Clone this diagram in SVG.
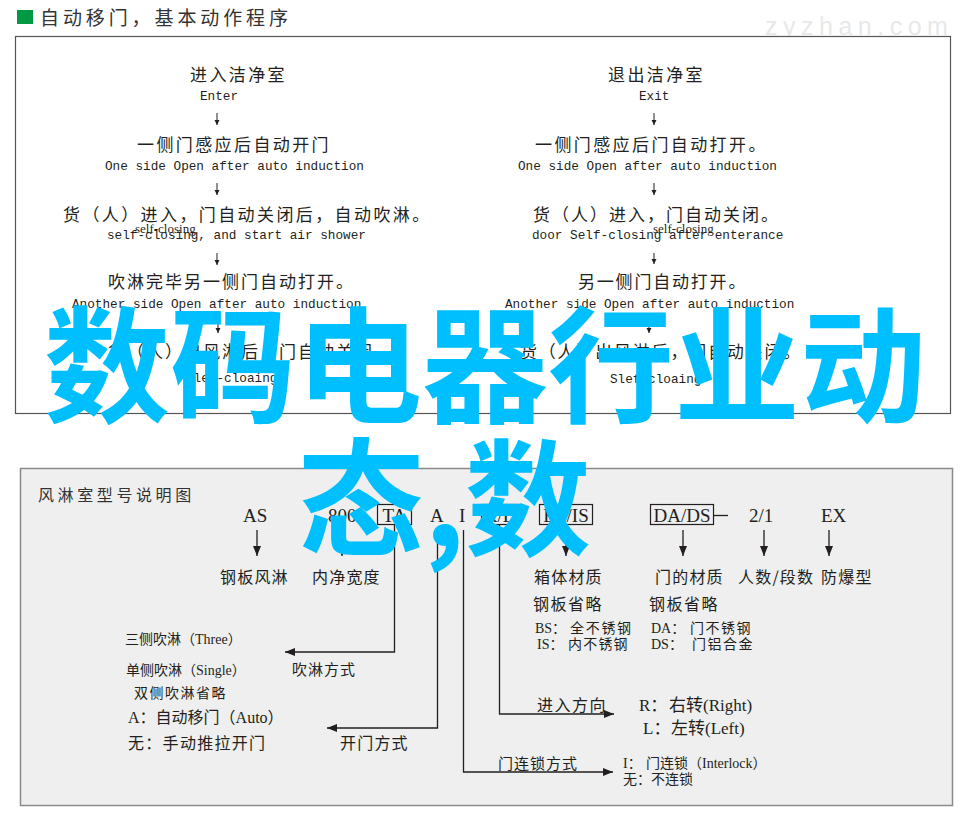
<svg xmlns="http://www.w3.org/2000/svg" width="971" height="822" viewBox="0 0 971 822">
<defs>
<style>
.cn{font-family:"Noto Sans CJK SC","Noto Sans",sans-serif;fill:#231f20}
.t1{font-size:17px;letter-spacing:2.4px}
.mono{font-family:"Liberation Mono","DejaVu Sans Mono",monospace;font-size:12.7px;fill:#231f20}
.ser{font-family:"Liberation Serif","Noto Sans CJK SC",serif;fill:#231f20}
.ov{font-family:"Liberation Serif",serif;font-size:13px;fill:#231f20}
.code{font-family:"Liberation Serif",serif;font-size:19px;fill:#231f20}
.l16{font-size:16px;letter-spacing:1.2px}
.l14{font-size:14px;letter-spacing:1.5px}
.ln{fill:none;stroke:#231f20;stroke-width:1}
.ln2{fill:none;stroke:#231f20;stroke-width:1.3}
.box{fill:none;stroke:#231f20;stroke-width:1.2}
.big{font-family:"Noto Sans CJK SC",sans-serif;font-weight:700;font-size:126px;fill:#00bfff}
</style>
<marker id="sa" markerWidth="6" markerHeight="6" refX="5" refY="3" orient="auto" markerUnits="userSpaceOnUse"><path d="M0,0.5 L5,3 L0,5.5 z" fill="#231f20"/></marker>
<marker id="la" markerWidth="11" markerHeight="9" refX="10" refY="4.5" orient="auto" markerUnits="userSpaceOnUse"><path d="M0,0.5 L10,4.5 L0,8.5 z" fill="#231f20"/></marker>
</defs>

<rect width="971" height="822" fill="#ffffff"/>

<g id="title">
<rect x="17" y="10" width="16" height="14" fill="#009a44"/>
<text x="40" y="25" class="cn" style="font-size:19px;letter-spacing:3.9px;fill:#333">自动移门，基本动作程序</text>
</g>
<g id="watermark">
<text x="765" y="35" style="font-family:'Liberation Sans',sans-serif;font-size:25px;letter-spacing:5.5px;fill:#e8e8e8">zyzhan.com</text>
</g>

<g id="top-frame"><rect x="15.5" y="36.5" width="935" height="377" fill="#ffffff" stroke="#555" stroke-width="1.2"/></g>

<g id="enter-1">
<text x="190" y="81" class="cn t1">进入洁净室</text>
<text x="200" y="100" class="mono">Enter</text>
</g>
<g id="enter-2">
<text x="137" y="151" class="cn t1">一侧门感应后自动开门</text>
<text x="105" y="170" class="mono">One side Open after auto induction</text>
</g>
<g id="enter-3">
<text x="63" y="221" class="cn t1">货（人）进入，门自动关闭后，自动吹淋。</text>
<text x="107" y="239" class="mono">self-closing, and start air shower</text>
<text x="135" y="233" class="ov">self-closing</text>
</g>
<g id="enter-4">
<text x="108" y="288" class="cn t1" style="letter-spacing:2px">吹淋完毕另一侧门自动打开。</text>
<text x="72" y="308" class="mono">Another side Open after auto induction</text>
</g>
<g id="enter-5">
<text x="108" y="358" class="cn t1" style="letter-spacing:2px">货（人）出风淋后，门自动关闭。</text>
<text x="186" y="382" class="mono">Slef-cloaing</text>
</g>

<g id="exit-1">
<text x="608" y="81" class="cn t1">退出洁净室</text>
<text x="639" y="100" class="mono">Exit</text>
</g>
<g id="exit-2">
<text x="535" y="151" class="cn t1">一侧门感应后门自动打开。</text>
<text x="518" y="170" class="mono">One side Open after auto induction</text>
</g>
<g id="exit-3">
<text x="533" y="221" class="cn t1" style="letter-spacing:2px">货（人）进入，门自动关闭。</text>
<text x="532" y="239" class="mono">door Self-closing after enterance</text>
<text x="653" y="233" class="ov">self-closing</text>
</g>
<g id="exit-4">
<text x="578" y="288" class="cn t1" style="letter-spacing:1.8px">另一侧门自动打开。</text>
<text x="505" y="308" class="mono">Another side Open after auto induction</text>
</g>
<g id="exit-5">
<text x="520" y="358" class="cn t1" style="letter-spacing:1.8px">货（人）出风淋后，门自动关闭。</text>
<text x="610" y="383" class="mono">Slef-cloaing</text>
</g>

<g id="bottom-frame"><rect x="20.5" y="468.5" width="932" height="337" fill="#eeefee" stroke="#8a8a8a" stroke-width="1.5"/></g>

<g id="legend-title"><text x="38" y="501" class="cn" style="font-size:16px;letter-spacing:3.6px;fill:#333">风淋室型号说明图</text></g>

<g id="code">
<text x="243" y="522" class="code">AS</text>
<text x="328" y="522" class="code">800</text>
<rect x="377.5" y="504.5" width="34" height="20" class="box"/>
<text x="394.5" y="522" class="code" text-anchor="middle">TA</text>
<text x="430" y="522" class="code">A</text>
<text x="459" y="522" class="code">I</text>
<rect x="481.5" y="504.5" width="36" height="20" class="box"/>
<text x="499.5" y="522" class="code" text-anchor="middle">R/L</text>
<rect x="539.5" y="504.5" width="53" height="20" class="box"/>
<text x="566" y="522" class="code" text-anchor="middle">BS/IS</text>
<rect x="650.5" y="504.5" width="63" height="20" class="box"/>
<text x="682" y="522" class="code" text-anchor="middle">DA/DS</text>
<line x1="714" y1="515.5" x2="728" y2="515.5" class="ln2"/>
<text x="749" y="522" class="code">2/1</text>
<text x="821" y="522" class="code">EX</text>
</g>

<g id="lbl-as"><text x="220" y="583" class="cn l16">钢板风淋</text></g>
<g id="lbl-width"><text x="312" y="583" class="cn l16">内净宽度</text></g>
<g id="lbl-body">
<text x="534" y="583" class="cn l16">箱体材质</text>
<text x="533" y="610" class="cn l16" style="letter-spacing:1.5px">钢板省略</text>
<text x="535" y="633" class="ser" style="font-size:14px">BS：</text><text x="570" y="633" class="cn l14" style="font-size:14px;letter-spacing:1.7px">全不锈钢</text>
<text x="537" y="649" class="ser" style="font-size:14px">IS：</text><text x="568" y="649" class="cn l14" style="font-size:14px;letter-spacing:1.2px">内不锈钢</text>
</g>
<g id="lbl-door">
<text x="655" y="583" class="cn l16">门的材质</text>
<text x="649" y="610" class="cn l16" style="letter-spacing:1.5px">钢板省略</text>
<text x="651" y="633" class="ser" style="font-size:14px">DA：</text><text x="690" y="633" class="cn l14" style="font-size:14px;letter-spacing:1.5px">门不锈钢</text>
<text x="651" y="649" class="ser" style="font-size:14px">DS：</text><text x="692" y="649" class="cn l14" style="font-size:14px;letter-spacing:1.5px">门铝合金</text>
</g>
<g id="lbl-people"><text x="738" y="583" class="cn l16">人数/段数</text></g>
<g id="lbl-ex"><text x="821" y="583" class="cn l16">防爆型</text></g>

<g id="lbl-shower">
<text x="125" y="644" class="cn" style="font-size:14px">三侧吹淋（<tspan class="ser">Three</tspan>）</text>
<text x="126" y="675" class="cn" style="font-size:14px">单侧吹淋（<tspan class="ser">Single</tspan>）</text>
<text x="134" y="698" class="cn l14">双侧吹淋省略</text>
<text x="292" y="675" class="cn" style="font-size:15px;letter-spacing:1px">吹淋方式</text>
</g>
<g id="lbl-open">
<text x="128" y="723" class="cn" style="font-size:16px"><tspan class="ser">A</tspan>：自动移门（<tspan class="ser">Auto</tspan>）</text>
<text x="128" y="749" class="cn" style="font-size:16px;letter-spacing:1.3px">无：手动推拉开门</text>
<text x="340" y="749" class="cn l16">开门方式</text>
</g>
<g id="lbl-dir">
<text x="537" y="711" class="cn l16" style="letter-spacing:1.5px">进入方向</text>
<text x="639" y="711" class="ser" style="font-size:17px">R：</text><text x="669" y="711" class="cn" style="font-size:17px">右转<tspan class="ser">(Right)</tspan></text>
<text x="643" y="734" class="ser" style="font-size:17px">L：</text><text x="671" y="734" class="cn" style="font-size:17px">左转<tspan class="ser">(Left)</tspan></text>
</g>
<g id="lbl-lock">
<text x="498" y="769" class="cn" style="font-size:15px;letter-spacing:1px">门连锁方式</text>
<text x="623" y="768" class="ser" style="font-size:14px">I：</text><text x="646" y="768" class="cn" style="font-size:14px">门连锁（<tspan class="ser">Interlock</tspan>）</text>
<text x="623" y="784" class="cn" style="font-size:14px">无：不连锁</text>
</g>

<g id="connectors">
<path d="M217 113 V125" class="ln" marker-end="url(#sa)"/>
<path d="M217 183 V195" class="ln" marker-end="url(#sa)"/>
<path d="M217 253 V265" class="ln" marker-end="url(#sa)"/>
<path d="M218 318 V333" class="ln" marker-end="url(#sa)"/>
<path d="M654 113 V125" class="ln" marker-end="url(#sa)"/>
<path d="M654 183 V195" class="ln" marker-end="url(#sa)"/>
<path d="M654 253 V264" class="ln" marker-end="url(#sa)"/>
<path d="M649 316 V333" class="ln" marker-end="url(#sa)"/>
<path d="M257 530 V556" class="ln2" marker-end="url(#la)"/>
<path d="M342 530 V556" class="ln2" marker-end="url(#la)"/>
<path d="M566 530 V556" class="ln2" marker-end="url(#la)"/>
<path d="M683 530 V556" class="ln2" marker-end="url(#la)"/>
<path d="M764 530 V556" class="ln2" marker-end="url(#la)"/>
<path d="M829 530 V556" class="ln2" marker-end="url(#la)"/>
<path d="M394.5 525 V652 H285" class="ln2" marker-end="url(#la)"/>
<path d="M437.5 535 V728 H327" class="ln2" marker-end="url(#la)"/>
<path d="M463.5 530 V772 H613" class="ln2" marker-end="url(#la)"/>
<path d="M499.5 525 V714 H614" class="ln2" marker-end="url(#la)"/>
</g>

<g id="overlay">
<text x="44" y="413" class="big">数码电器行业动</text>
<text x="298" y="546" class="big">态,数</text>
</g>
</svg>
